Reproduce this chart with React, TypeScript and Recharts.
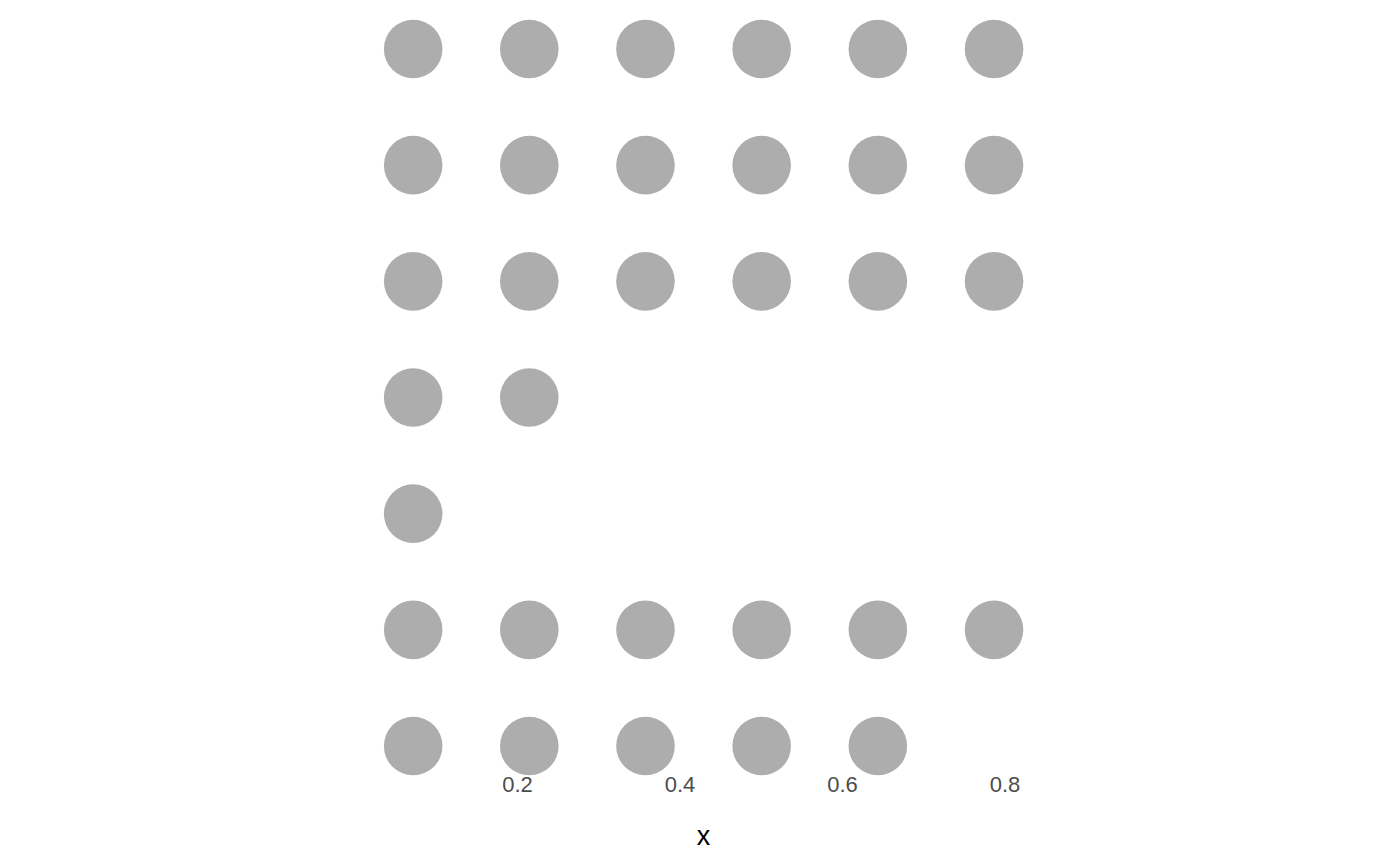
import React from 'react';
import { ScatterChart, Scatter, XAxis, YAxis } from 'recharts';

// Column centres (x) of the dot stacks
const columnX = [0.0716, 0.2145, 0.3575, 0.5005, 0.6435, 0.7865];
// Row levels occupied in each column (7 = top row, 1 = bottom row)
const col1Rows = [7, 6, 5, 4, 3, 2, 1];
const col2Rows = [7, 6, 5, 4, 2, 1];
const col3Rows = [7, 6, 5, 2, 1];
const col4Rows = [7, 6, 5, 2, 1];
const col5Rows = [7, 6, 5, 2, 1];
const col6Rows = [7, 6, 5, 2];
const xTicks = [0.2, 0.4, 0.6, 0.8];

const columns = [col1Rows, col2Rows, col3Rows, col4Rows, col5Rows, col6Rows];
const points = columns.flatMap((rows, i) => rows.map((r) => ({ x: columnX[i], y: r })));

const Dot = (props: any) => {
  const { cx, cy } = props;
  return <circle cx={cx} cy={cy} r={29.3} fill="#adadad" />;
};

export default function App() {
  return (
    <div style={{ position: 'absolute', left: 0, top: 0, background: '#fff' }}>
      <ScatterChart
        width={1400}
        height={865}
        margin={{ top: 49, right: 377, bottom: 20, left: 384 }}
      >
        <XAxis
          type="number"
          dataKey="x"
          domain={[0.03569, 0.82215]}
          ticks={xTicks}
          tickFormatter={(v: number) => String(v)}
          axisLine={false}
          tickLine={false}
          tickSize={0}
          tickMargin={30.3}
          height={99}
          tick={{ fill: '#4d4d4d', fontSize: 22, fontFamily: 'Liberation Sans, Arial, sans-serif' }}
          label={{
            value: 'x',
            position: 'insideBottom',
            offset: 0,
            fill: '#000000',
            fontSize: 27,
            fontFamily: 'Liberation Sans, Arial, sans-serif',
          }}
        />
        <YAxis type="number" dataKey="y" domain={[1, 7]} hide width={0} />
        <Scatter data={points} shape={<Dot />} isAnimationActive={false} />
      </ScatterChart>
    </div>
  );
}
